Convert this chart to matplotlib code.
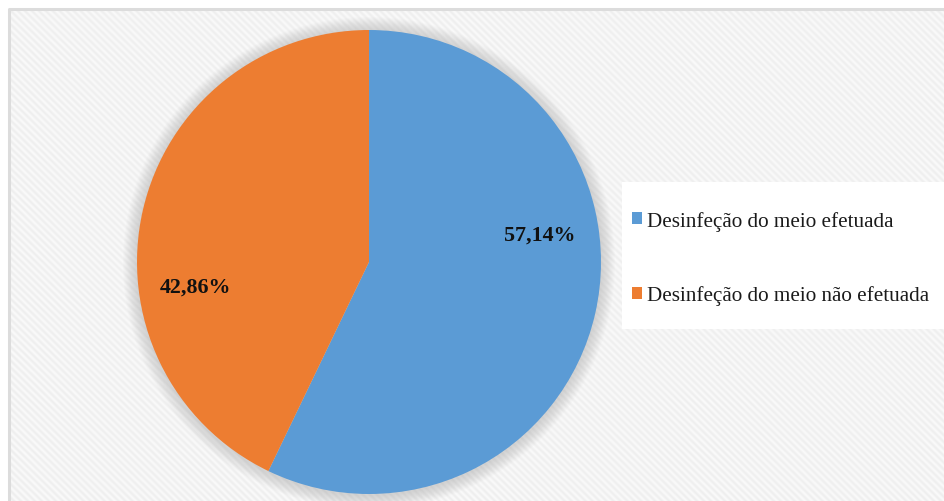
import numpy as np
import matplotlib.pyplot as plt
from matplotlib.patches import Circle, Rectangle, Patch

categories = ["Desinfeção do meio efetuada", "Desinfeção do meio não efetuada"]
shares = [57.14, 42.86]
colors = ["#5b9bd5", "#ed7d31"]

W, H = 945, 502
fig = plt.figure(figsize=(W / 100, H / 100), dpi=100)
fig.patch.set_facecolor("white")
ax = fig.add_axes([0, 0, 1, 1])
ax.set_xlim(0, W)
ax.set_ylim(0, H)
ax.set_aspect("equal")
ax.axis("off")

# diagonal striped chart-area fill
yy, xx = np.mgrid[0:H, 0:W]
phase = ((xx - yy) % 7) / 7.0
tex = 0.98 - 0.045 * (0.5 + 0.5 * np.cos(2 * np.pi * phase))
rgb = np.dstack([tex, tex, tex])
ax.imshow(rgb, extent=(9, W + 5, 0, H - 10), origin="upper", zorder=0,
          interpolation="bilinear")
ax.plot([9, 9, W + 5], [-5, H - 10, H - 10], color="#dcdcdc", lw=2.2, zorder=1,
        solid_capstyle="butt")

cx, cy, r = 369, H - 263, 232

# soft glow around the pie
for k in range(14, 0, -1):
    ax.add_patch(Circle((cx, cy - 1), r + k, color="#a0a0a0", alpha=0.03,
                        lw=0, zorder=2))

ax.pie(shares, colors=colors, center=(cx, cy), radius=r, startangle=90,
       counterclock=False, wedgeprops=dict(linewidth=0, zorder=3),
       frame=True)
ax.set_xlim(0, W)
ax.set_ylim(0, H)
ax.axis("off")

label_pos = [(540, H - 236), (196, H - 288)]
for v, (px, py) in zip(shares, label_pos):
    ax.text(px, py, f"{v:.2f}%".replace(".", ","), ha="center", va="center",
            fontsize=15.8, fontweight="bold", family="Liberation Serif",
            color="#111111", zorder=5)

# legend panel
ax.add_patch(Rectangle((622, H - 330), W - 622 + 5, 147, facecolor="white",
                       edgecolor="none", zorder=4))
handles = [Patch(facecolor=c, edgecolor="none") for c in colors]
leg = ax.legend(handles, categories, loc="center left",
                bbox_to_anchor=(621 / W, 1 - 259 / H), frameon=False,
                prop={"family": "Liberation Serif", "size": 15.2},
                handlelength=0.5, handleheight=0.5, handletextpad=0.25,
                labelspacing=2.6, borderpad=0)
for t in leg.get_texts():
    t.set_color("#1a1a1a")
leg.set_zorder(6)

fig.savefig("out.png", dpi=100)
